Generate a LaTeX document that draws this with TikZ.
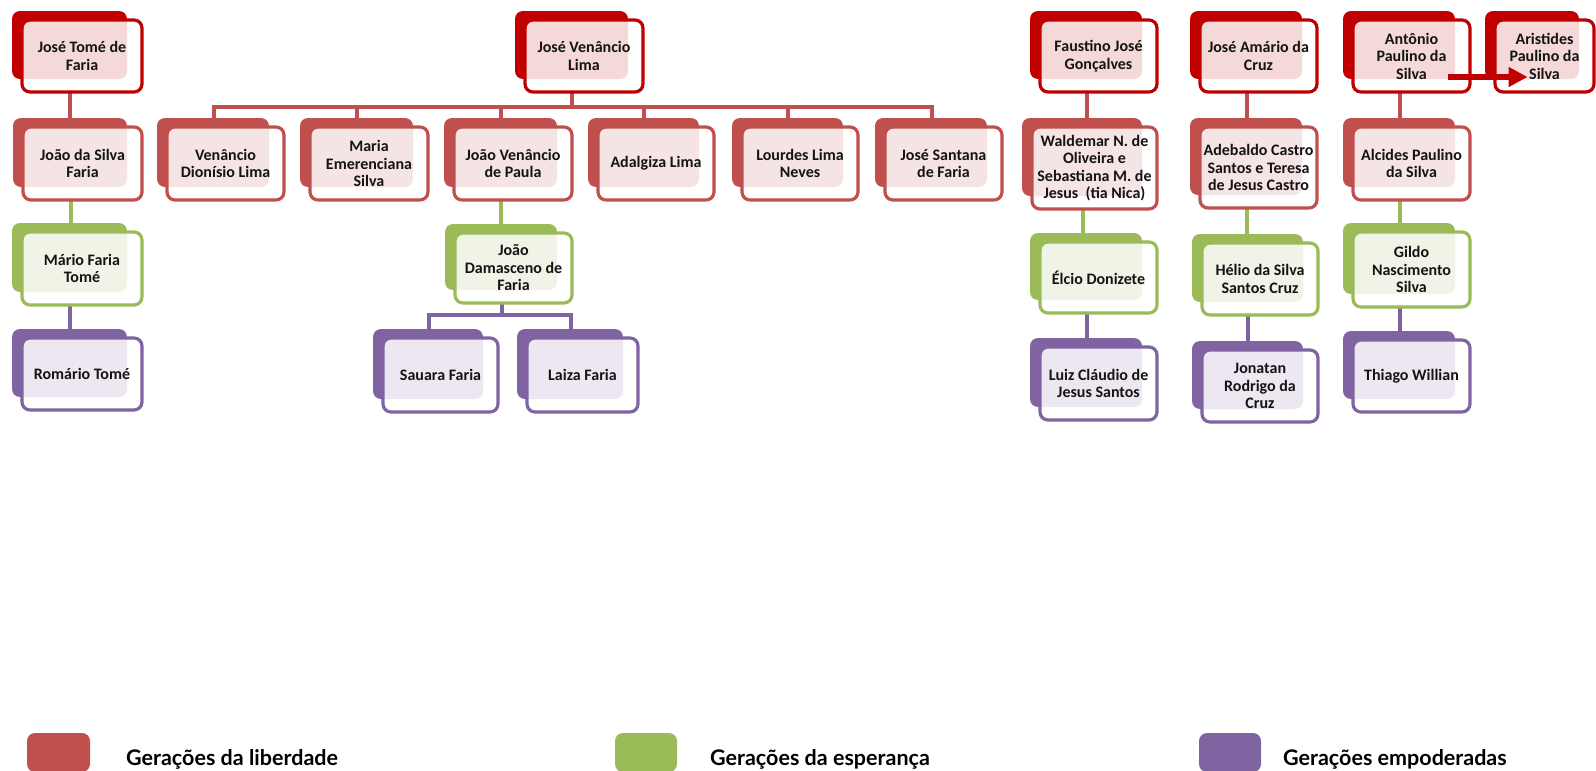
\documentclass[tikz,border=0pt]{standalone}
\usepackage{fontspec}
\setmainfont{Carlito}
\newfontfamily\legfont{Lato}
\usetikzlibrary{arrows.meta,backgrounds}
\definecolor{topred}{HTML}{C00000}
\definecolor{ored}{HTML}{C0504D}
\definecolor{ogreen}{HTML}{9BBB59}
\definecolor{opurple}{HTML}{8064A2}
\definecolor{txtc}{HTML}{141414}
\tikzset{
  frontbox/.style={rectangle, draw=#1, line width=3.2pt, fill=white, fill opacity=0.85,
    rounded corners=8pt, inner sep=0pt, outer sep=0pt},
  nametext/.style={font=\bfseries\fontsize{16}{17.5}\selectfont, text=txtc, align=center, inner sep=0pt},
  conn/.style={draw=#1, line width=4pt, line cap=rect},
  legtext/.style={font=\legfont\bfseries\fontsize{21.5}{25}\selectfont, anchor=base west,
    inner sep=0pt, text=black},
  legbox/.style={fill=#1, rounded corners=8pt},
  bigarrow/.style={draw=topred, line width=6pt, -{Triangle[length=19pt,width=19pt]}}
}
% #1 name, #2 x1, #3 y1, #4 x2, #5 y2 (front box), #6 colour, #7 text
\newcommand\famnode[7]{%
  \fill[#6, rounded corners=8pt] ({#2-10},{#3-9}) rectangle ({#4-15},{#5-13});
  \node[frontbox=#6, minimum width={#4-#2}, minimum height={#5-#3}] (#1) at ({(#2+#4)/2},{(#3+#5)/2}) {};
  \node[nametext] (#1t) at (#1.center) {#7};
  \coordinate (#1top) at ({(#2+#4)/2-12},#3);
  \coordinate (#1bot) at ({(#2+#4)/2-12},#5);
}
\begin{document}
\begin{tikzpicture}[x=1pt,y=-1pt]
\useasboundingbox (0,0) rectangle (1596,771);

% ---- row 1 (top generation)
\famnode{jtf}{22}{20}{142}{92}{topred}{José Tomé de\\Faria}
\famnode{jvl}{525}{20}{643}{92}{topred}{José Venâncio\\Lima}
\famnode{fjg}{1040}{20}{1157}{92}{topred}{Faustino José\\Gonçalves}
\famnode{jac}{1200}{20}{1317}{92}{topred}{José Amário da\\Cruz}
\famnode{aps}{1353}{20}{1470}{92}{topred}{Antônio\\Paulino da\\Silva}
\famnode{arps}{1495}{20}{1594}{92}{topred}{Aristides\\Paulino da\\Silva}

% ---- row 2
\famnode{jsf}{23}{127}{142}{200}{ored}{João da Silva\\Faria}
\famnode{vdl}{167}{127}{284}{200}{ored}{Venâncio\\Dionísio Lima}
\famnode{mes}{310}{127}{428}{200}{ored}{Maria\\Emerenciana\\Silva}
\famnode{jvp}{454}{127}{572}{200}{ored}{João Venâncio\\de Paula}
\famnode{adl}{598}{127}{714}{200}{ored}{Adalgiza Lima}
\famnode{lln}{742}{127}{858}{200}{ored}{Lourdes Lima\\Neves}
\famnode{jsdf}{885}{127}{1002}{200}{ored}{José Santana\\de Faria}
\famnode{wal}{1032}{127}{1157}{209}{ored}{Waldemar N. de\\Oliveira e\\Sebastiana M. de\\Jesus\ \ (tia Nica)}
\famnode{ade}{1200}{127}{1317}{208}{ored}{Adebaldo Castro\\Santos e Teresa\\de Jesus Castro}
\famnode{alc}{1353}{127}{1470}{200}{ored}{Alcides Paulino\\da Silva}

% ---- row 3
\famnode{mft}{22}{232}{142}{305}{ogreen}{Mário Faria\\Tomé}
\famnode{jdf}{455}{233}{572}{303}{ogreen}{João\\Damasceno de\\Faria}
\famnode{elc}{1040}{242}{1157}{313}{ogreen}{Élcio Donizete}
\famnode{hel}{1202}{243}{1318}{315}{ogreen}{Hélio da Silva\\Santos Cruz}
\famnode{gil}{1353}{232}{1470}{307}{ogreen}{Gildo\\Nascimento\\Silva}

% ---- row 4
\famnode{rt}{22}{338}{142}{410}{opurple}{Romário Tomé}
\famnode{sau}{383}{338}{498}{412}{opurple}{Sauara Faria}
\famnode{lai}{527}{338}{638}{412}{opurple}{Laiza Faria}
\famnode{luiz}{1040}{347}{1157}{420}{opurple}{Luiz Cláudio de\\Jesus Santos}
\famnode{jon}{1202}{350}{1318}{422}{opurple}{Jonatan\\Rodrigo da\\Cruz}
\famnode{thi}{1353}{340}{1470}{412}{opurple}{Thiago Willian}

% ---- connectors (behind the boxes)
\coordinate (jvlbar) at (0,107);
\coordinate (jdfbar) at (0,315);
\begin{scope}[on background layer]
  \draw[conn=ored] (jtfbot) -- (jtfbot |- jsftop);
  \draw[conn=ogreen] (jsfbot) -- (jsfbot |- mfttop);
  \draw[conn=opurple] (mftbot) -- (mftbot |- rttop);

  \draw[conn=ored] (jvlbot) -- (jvlbot |- jvlbar);
  \draw[conn=ored] (vdltop |- jvlbar) -- (jsdftop |- jvlbar);
  \foreach \c in {vdl,mes,jvp,adl,lln,jsdf}
    \draw[conn=ored] (\c top |- jvlbar) -- (\c top);

  \draw[conn=ogreen] (jvpbot) -- (jvpbot |- jdftop);
  \draw[conn=opurple] (jdfbot) -- (jdfbot |- jdfbar);
  \draw[conn=opurple] (sautop |- jdfbar) -- (laitop |- jdfbar);
  \foreach \c in {sau,lai}
    \draw[conn=opurple] (\c top |- jdfbar) -- (\c top);

  \draw[conn=ored] (fjgbot) -- (fjgbot |- waltop);
  \draw[conn=ogreen] (walbot) -- (walbot |- elctop);
  \draw[conn=opurple] (elcbot) -- (elcbot |- luiztop);

  \draw[conn=ored] (jacbot) -- (jacbot |- adetop);
  \draw[conn=ogreen] (adebot) -- (adebot |- heltop);
  \draw[conn=opurple] (helbot) -- (helbot |- jontop);

  \draw[conn=ored] (apsbot) -- (apsbot |- alctop);
  \draw[conn=ogreen] (alcbot) -- (alcbot |- giltop);
  \draw[conn=opurple] (gilbot) -- (gilbot |- thitop);
\end{scope}

% ---- arrow Antônio -> Aristides
\draw[bigarrow] ([shift={(36,21)}]aps.center) -- ([shift={(-17,21)}]arps.center);

% ---- legend
\fill[legbox=ored] (27,733) rectangle (90,772);
\node[legtext] (leg1) at (126,765) {Gerações da liberdade};
\fill[legbox=ogreen] (615,733) rectangle (677,772);
\node[legtext] (leg2) at (710,765) {Gerações da esperança};
\fill[legbox=opurple] (1199,733) rectangle (1261,772);
\node[legtext] (leg3) at (1283,765) {Gerações empoderadas};
\end{tikzpicture}
\end{document}
